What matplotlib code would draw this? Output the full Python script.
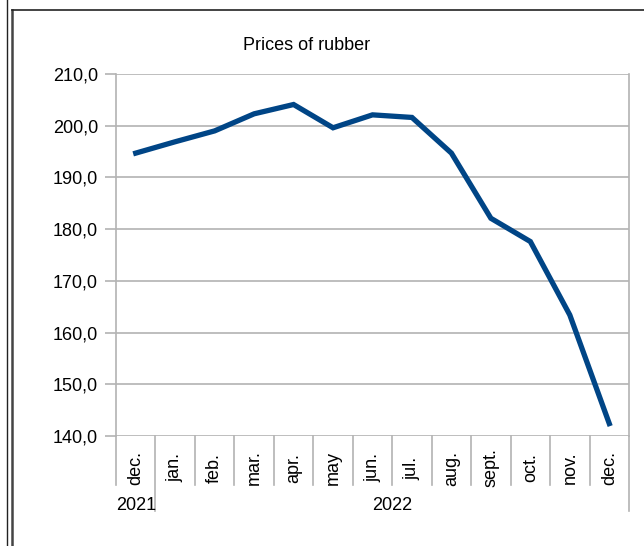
import matplotlib
matplotlib.use("Agg")
import matplotlib.pyplot as plt
from matplotlib.lines import Line2D
from matplotlib.transforms import blended_transform_factory

plt.rcParams['font.family'] = ['Liberation Sans', 'DejaVu Sans']

# data
months = ["dec.", "jan.", "feb.", "mar.", "apr.", "may", "jun.", "jul.",
          "aug.", "sept.", "oct.", "nov.", "dec."]
years = ["2021", "2022"]
year_spans = [(0, 1), (1, 13)]
prices = [194.7, 196.9, 199.0, 202.3, 204.1, 199.6, 202.1, 201.6,
          194.7, 182.1, 177.6, 163.4, 142.4]
yticks = [140, 150, 160, 170, 180, 190, 200, 210]

W, H = 644, 546
fig = plt.figure(figsize=(W / 100, H / 100), dpi=100)
ax = fig.add_axes([116 / W, (H - 436) / H, (629 - 116) / W, (436 - 74) / H])

grid_c = "#b3b3b3"
ax.set_xlim(-0.5, len(months) - 0.5)
ax.set_ylim(140, 210)
for y in yticks:
    ax.axhline(y, color=grid_c, lw=1.2, zorder=1)
ax.plot(range(len(months)), prices, color="#004586", lw=3.8,
        solid_joinstyle="miter", zorder=3)

for s in ["top", "bottom"]:
    ax.spines[s].set_visible(False)
for s in ["left", "right"]:
    ax.spines[s].set_color(grid_c)
    ax.spines[s].set_linewidth(1.2)

ax.set_yticks(yticks)
ax.set_yticklabels(["%d,0" % v for v in yticks], fontsize=13)
ax.tick_params(axis="y", length=8, color=grid_c, width=1.2, pad=5)
ax.set_xticks([])

# category axis drawn by hand in pixel space below the axes
trans = blended_transform_factory(ax.transData, fig.transFigure)
def fy(p):
    return (H - p) / H

for i in range(len(months) + 1):
    x = i - 0.5
    bottom = 485
    for a, b in year_spans:
        if i == a or i == b:
            bottom = 511
    if i == 0:
        bottom = 485
    fig.add_artist(Line2D([x, x], [fy(436), fy(bottom)], transform=trans,
                          color=grid_c, lw=1.2))

for i, m in enumerate(months):
    fig.text(i, fy(468), m, transform=trans, rotation=90,
             ha="center", va="center", fontsize=13)

for yr, (a, b) in zip(years, year_spans):
    fig.text((a + b - 1) / 2, fy(505), yr, transform=trans,
             ha="center", va="center", fontsize=13)

fig.text(307 / W, fy(46), "Prices of rubber", ha="center", va="center",
         fontsize=13)

# outer frame lines
fig.add_artist(Line2D([6.5 / W, 6.5 / W], [0, 1], color="#222222", lw=1))
fig.add_artist(Line2D([12.5 / W, 12.5 / W], [0, fy(10)], color="#444444", lw=1.8))
fig.add_artist(Line2D([12 / W, 1], [fy(10), fy(10)], color="#222222", lw=1.2))

fig.savefig("out.png", dpi=100)
